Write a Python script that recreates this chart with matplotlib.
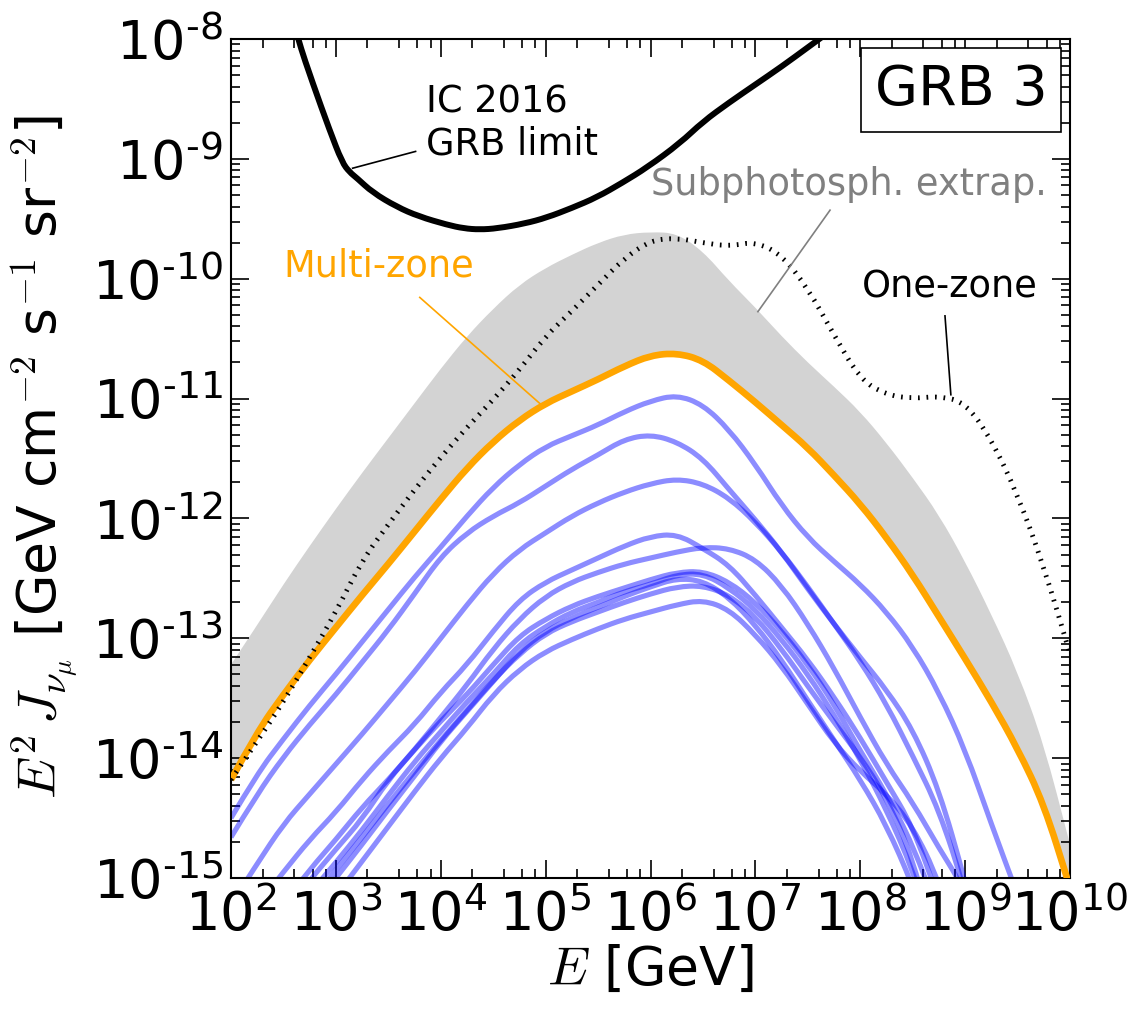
#!/usr/bin/env python3
import numpy as np
import matplotlib
matplotlib.use('Agg')
import matplotlib.pyplot as plt
from matplotlib.patches import PathPatch, Rectangle
from matplotlib.path import Path
from matplotlib.ticker import LogLocator, NullFormatter, FixedLocator

# everything as log10 values, quarter decade grid in E
log_e = np.arange(2.0, 10.01, 0.25)

gray_top = [-13.22, -12.89, -12.55, -12.23, -11.92, -11.62, -11.33, -11.04, -10.75,
            -10.48, -10.25, -10.05, -9.91, -9.80, -9.70, -9.63, -9.61, -9.62, -9.77,
            -10.02, -10.24, -10.48, -10.70, -10.90, -11.11, -11.37, -11.66, -11.97,
            -12.36, -12.80, -13.28, -13.88, -14.72]
multi_zone = [-14.18, -13.78, -13.47, -13.18, -12.91, -12.64, -12.38, -12.11, -11.84,
              -11.58, -11.36, -11.18, -11.04, -10.94, -10.84, -10.73, -10.64, -10.62,
              -10.68, -10.85, -11.03, -11.22, -11.41, -11.64, -11.88, -12.16, -12.47,
              -12.82, -13.17, -13.53, -13.92, -14.38, -15.08]
one_zone = [-14.18, -13.86, -13.53, -13.16, -12.78, -12.35, -12.05, -11.76, -11.49,
            -11.24, -11.01, -10.76, -10.48, -10.27, -10.05, -9.83, -9.68, -9.66, -9.70,
            -9.73, -9.69, -9.80, -10.08, -10.47, -10.84, -10.97, -11.00, -10.98, -11.03,
            -11.34, -11.80, -12.40, -13.13]

ic_e = [2.50, 2.64, 2.78, 2.94, 3.06, 3.13, 3.20, 3.35, 3.58, 3.79, 4.06, 4.22, 4.37, 4.54,
        4.80, 5.01, 5.25, 5.49, 5.73, 5.97, 6.28, 6.50, 6.75, 7.00, 7.25, 7.50, 7.75]
ic_limit = [-7.57, -8.01, -8.37, -8.76, -9.03, -9.11, -9.16, -9.28, -9.40, -9.48, -9.55,
            -9.58, -9.59, -9.58, -9.54, -9.49, -9.41, -9.32, -9.20, -9.07, -8.87, -8.69,
            -8.53, -8.38, -8.23, -8.07, -7.91]

burst_1 = [-14.50, -14.13, -13.84, -13.56, -13.30, -13.03, -12.76, -12.49, -12.24, -11.98,
           -11.74, -11.55, -11.40, -11.31, -11.22, -11.11, -11.02, -10.97, -11.05, -11.26,
           -11.55, -11.89, -12.16, -12.36, -12.55, -12.78, -13.07, -13.45, -13.93, -14.55,
           -15.14]
burst_2 = [-14.66, -14.30, -13.99, -13.72, -13.47, -13.20, -12.93, -12.63, -12.32, -12.12,
           -11.98, -11.87, -11.73, -11.59, -11.47, -11.34, -11.30, -11.36, -11.50, -11.76,
           -12.01, -12.28, -12.59, -12.88, -13.16, -13.43, -13.76, -14.26, -15.02, -15.90]
burst_3 = [-15.22, -14.88, -14.55, -14.30, -14.05, -13.80, -13.54, -13.28, -13.00, -12.72,
           -12.46, -12.26, -12.12, -11.98, -11.87, -11.78, -11.71, -11.67, -11.71, -11.83,
           -12.03, -12.28, -12.57, -12.88, -13.19, -13.55, -13.98, -14.43, -15.10, -16.00]
burst_4 = [-15.52, -15.23, -14.95, -14.68, -14.45, -14.18, -13.94, -13.72, -13.45, -13.22,
           -12.94, -12.68, -12.53, -12.43, -12.33, -12.23, -12.15, -12.13, -12.25, -12.39,
           -12.64, -12.91, -13.18, -13.49, -13.83, -14.20, -14.57, -15.18, -15.80]
burst_5 = [-15.80, -15.50, -15.22, -14.93, -14.68, -14.41, -14.18, -13.93, -13.66, -13.39,
           -13.09, -12.84, -12.65, -12.53, -12.45, -12.38, -12.33, -12.28, -12.24, -12.25,
           -12.34, -12.56, -12.88, -13.25, -13.66, -14.05, -14.37, -14.75, -15.10, -15.90]
burst_6 = [-15.90, -15.60, -15.31, -15.02, -14.76, -14.51, -14.18, -13.93, -13.69, -13.47,
           -13.22, -12.98, -12.84, -12.73, -12.65, -12.58, -12.51, -12.45, -12.44, -12.53,
           -12.70, -12.94, -13.22, -13.55, -13.94, -14.30, -14.72, -15.31, -16.00]
burst_7 = [-16.02, -15.73, -15.44, -15.13, -14.87, -14.60, -14.31, -14.03, -13.78, -13.53,
           -13.30, -13.05, -12.90, -12.78, -12.70, -12.61, -12.55, -12.47, -12.46, -12.58,
           -12.76, -13.01, -13.30, -13.64, -14.01, -14.43, -14.93, -15.60]
burst_8 = [-16.18, -15.89, -15.60, -15.28, -15.00, -14.72, -14.43, -14.15, -13.86, -13.61,
           -13.36, -13.11, -12.94, -12.83, -12.74, -12.65, -12.57, -12.50, -12.52, -12.66,
           -12.89, -13.18, -13.52, -13.85, -14.18, -14.56, -15.06, -15.68]
burst_9 = [-16.10, -15.80, -15.53, -15.22, -14.93, -14.66, -14.38, -14.11, -13.85, -13.60,
           -13.35, -13.13, -12.96, -12.86, -12.78, -12.70, -12.63, -12.57, -12.56, -12.64,
           -12.82, -13.09, -13.40, -13.70, -13.99, -14.33, -14.83, -15.68]
burst_10 = [-16.30, -16.02, -15.73, -15.44, -15.15, -14.86, -14.57, -14.28, -14.00, -13.75,
            -13.47, -13.26, -13.11, -13.01, -12.92, -12.84, -12.78, -12.72, -12.68, -12.76,
            -12.97, -13.23, -13.55, -13.87, -14.11, -14.30, -14.57, -15.02, -15.76]
bursts = [burst_1, burst_2, burst_3, burst_4, burst_5, burst_6, burst_7, burst_8, burst_9,
          burst_10]

x_ticks = [2, 3, 4, 5, 6, 7, 8, 9, 10]
y_ticks = [-15, -14, -13, -12, -11, -10, -9, -8]


def curve_verts(lx, ly):
    # rounded path: read values are the control points, so no corners at the grid
    lx = np.asarray(lx, dtype=float)
    ly = np.asarray(ly, dtype=float)
    verts = [(lx[0], ly[0])]
    codes = [Path.MOVETO]
    for i in range(1, len(lx) - 1):
        verts.append((lx[i], ly[i]))
        verts.append(((lx[i] + lx[i + 1]) / 2, (ly[i] + ly[i + 1]) / 2))
        codes += [Path.CURVE3, Path.CURVE3]
    verts.append((lx[-1], ly[-1]))
    codes.append(Path.LINETO)
    return 10.0 ** np.array(verts), codes


def add_curve(ax, lx, ly, **kw):
    v, c = curve_verts(lx, ly)
    ax.add_patch(PathPatch(Path(v, c), fill=False, capstyle='butt', **kw))


fig = plt.figure(figsize=(11.44, 10.14), dpi=100)
ax = fig.add_axes([231/1144, 1 - 878/1014, 839/1144, 839/1014])
ax.set_xscale('log')
ax.set_yscale('log')
ax.set_xlim(1e2, 1e10)
ax.set_ylim(1e-15, 1e-8)

v_top, c_top = curve_verts(log_e, gray_top)
v_low, c_low = curve_verts(log_e[::-1], multi_zone[::-1])
c_low[0] = Path.LINETO
band = Path(np.vstack([v_top, v_low, v_top[:1]]), c_top + c_low + [Path.CLOSEPOLY])
ax.add_patch(PathPatch(band, fc='lightgray', ec='none', lw=0, zorder=1))

for b in bursts:
    add_curve(ax, log_e[:len(b)], b, ec=(0, 0, 1, 0.45), lw=3.7, zorder=2)
add_curve(ax, log_e, multi_zone, ec='orange', lw=4.8, zorder=3)
add_curve(ax, log_e, one_zone, ec='black', lw=3.5, ls=(0, (0.35, 1.4)), zorder=4)
add_curve(ax, ic_e, ic_limit, ec='black', lw=4.3, zorder=4)

ax.xaxis.set_major_locator(FixedLocator([10.0**t for t in x_ticks]))
ax.yaxis.set_major_locator(FixedLocator([10.0**t for t in y_ticks]))
ax.xaxis.set_minor_locator(LogLocator(base=10, subs=[2, 4, 6, 8], numticks=20))
ax.yaxis.set_minor_locator(LogLocator(base=10, subs=range(2, 10), numticks=20))
ax.xaxis.set_minor_formatter(NullFormatter())
ax.yaxis.set_minor_formatter(NullFormatter())
ax.set_xticklabels(['10$^{%d}$' % t for t in x_ticks])
ax.set_yticklabels(['10$^{\\text{-}%d}$' % -t for t in y_ticks])
ax.tick_params(which='major', direction='in', top=True, right=True, length=13, width=1.2,
               labelsize=39)
ax.tick_params(axis='x', which='major', pad=8)
ax.tick_params(axis='y', which='major', pad=6)
ax.tick_params(which='minor', direction='in', top=True, right=True, length=6.5, width=1.2)
for s in ax.spines.values():
    s.set_linewidth(1.5)

fig.text(650/1144, 1 - 970/1014, r'$E$ [GeV]', fontsize=38.5, ha='center', va='center',
         math_fontfamily='cm')
fig.text(44/1144, 1 - 457/1014, r'$E^2\,J_{\nu_\mu}$ [GeV cm$^{-2}$ s$^{-1}$ sr$^{-2}$]',
         fontsize=38.5, rotation=90, ha='center', va='center', math_fontfamily='cm')

# labels and their thin leader lines, axes fractions
ax.add_patch(Rectangle((0.751, 0.889), 0.238, 0.100, transform=ax.transAxes, fc='white',
                       ec='black', lw=1.2, zorder=5))
ax.text(0.870, 0.939, 'GRB 3', transform=ax.transAxes, fontsize=40, ha='center', va='center',
        zorder=6)
ax.text(0.232, 0.9, 'IC 2016\nGRB limit', transform=ax.transAxes, fontsize=26.5, ha='left',
        va='center', linespacing=1.15)
ax.text(0.5, 0.827, 'Subphotosph. extrap.', transform=ax.transAxes, fontsize=26.5,
        color='gray', ha='left', va='center')
ax.text(0.062, 0.73, 'Multi-zone', transform=ax.transAxes, fontsize=26.5, color='orange',
        ha='left', va='center')
ax.text(0.752, 0.704, 'One-zone', transform=ax.transAxes, fontsize=26.5, ha='left',
        va='center')
leaders = [((0.145, 0.846), (0.22, 0.866), 'black'),
           ((0.628, 0.675), (0.714, 0.796), 'gray'),
           ((0.371, 0.563), (0.225, 0.692), 'orange'),
           ((0.858, 0.576), (0.851, 0.67), 'black')]
for a, b, c in leaders:
    ax.plot([a[0], b[0]], [a[1], b[1]], transform=ax.transAxes, color=c, lw=1.2, zorder=5)

fig.savefig('out.png', dpi=100)
